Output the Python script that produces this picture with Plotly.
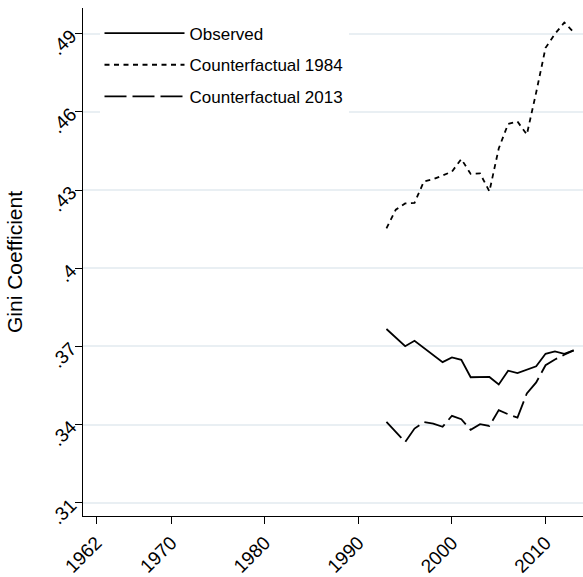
import plotly.graph_objects as go

# Gini coefficient series, 1993-2013
years = list(range(1993, 2014))
observed = [0.3767, 0.3734, 0.3701, 0.3722, 0.3695, 0.3668, 0.3640, 0.3658, 0.3649, 0.3582, 0.3582,
            0.3583, 0.3554, 0.3607, 0.3598, 0.3611, 0.3624, 0.3672, 0.3681, 0.3672, 0.3685]
cf_1984 = [0.4153, 0.4225, 0.4249, 0.4251, 0.4333, 0.4342, 0.4356, 0.4371, 0.4419, 0.4362, 0.4364,
           0.4295, 0.4460, 0.4554, 0.4563, 0.4513, 0.4675, 0.4846, 0.4899, 0.4943, 0.4906]
cf_2013 = [0.3411, 0.3372, 0.3333, 0.3385, 0.3410, 0.3404, 0.3392, 0.3434, 0.3421, 0.3380, 0.3402,
           0.3395, 0.3456, 0.3440, 0.3427, 0.3520, 0.3562, 0.3628, 0.3650, 0.3668, 0.3685]

x_ticks = [1962, 1970, 1980, 1990, 2000, 2010]
y_ticks = [0.31, 0.34, 0.37, 0.40, 0.43, 0.46, 0.49]
y_tick_labels = [".31", ".34", ".37", ".4", ".43", ".46", ".49"]

FONT = "Liberation Sans, Arial, sans-serif"

series = [
    ("Observed", observed, "solid"),
    ("Counterfactual 1984", cf_1984, "5px,4.5px"),
    ("Counterfactual 2013", cf_2013, "22px,6px"),
]

fig = go.Figure()
for i, (name, vals, dash) in enumerate(series):
    fig.add_trace(go.Scatter(
        x=years, y=vals, mode="lines", name=name, legendgroup=f"g{i}",
        line=dict(color="black", width=1.8, dash=dash),
    ))

fig.update_layout(
    width=583, height=577,
    margin=dict(l=83, r=0, t=8, b=56, pad=0),
    paper_bgcolor="white", plot_bgcolor="white",
    font=dict(family=FONT, color="black"),
    showlegend=True,
    legend=dict(
        x=0.033, y=0.985, xanchor="left", yanchor="top",
        bgcolor="white", borderwidth=0,
        font=dict(size=17, family=FONT),
        itemwidth=80, tracegroupgap=6.5,
        entrywidth=180, entrywidthmode="pixels",
    ),
    xaxis=dict(
        range=[1960.58, 2014.0], tickvals=x_ticks, tickangle=-45,
        ticks="outside", ticklen=7, tickwidth=1.3, tickcolor="black",
        showline=True, linecolor="black", linewidth=1.3,
        showgrid=False, zeroline=False,
        tickfont=dict(size=19, family=FONT),
    ),
    yaxis=dict(
        range=[0.30495, 0.49987], tickvals=y_ticks, ticktext=y_tick_labels, tickangle=-45,
        ticks="outside", ticklen=7, tickwidth=1.3, tickcolor="black",
        showline=True, linecolor="black", linewidth=1.3,
        showgrid=True, gridcolor="#e9eff3", gridwidth=1.5, zeroline=False,
        tickfont=dict(size=19, family=FONT),
        title=dict(text="Gini Coefficient", font=dict(size=21, family=FONT), standoff=18),
    ),
)

fig.write_html("out.html")
